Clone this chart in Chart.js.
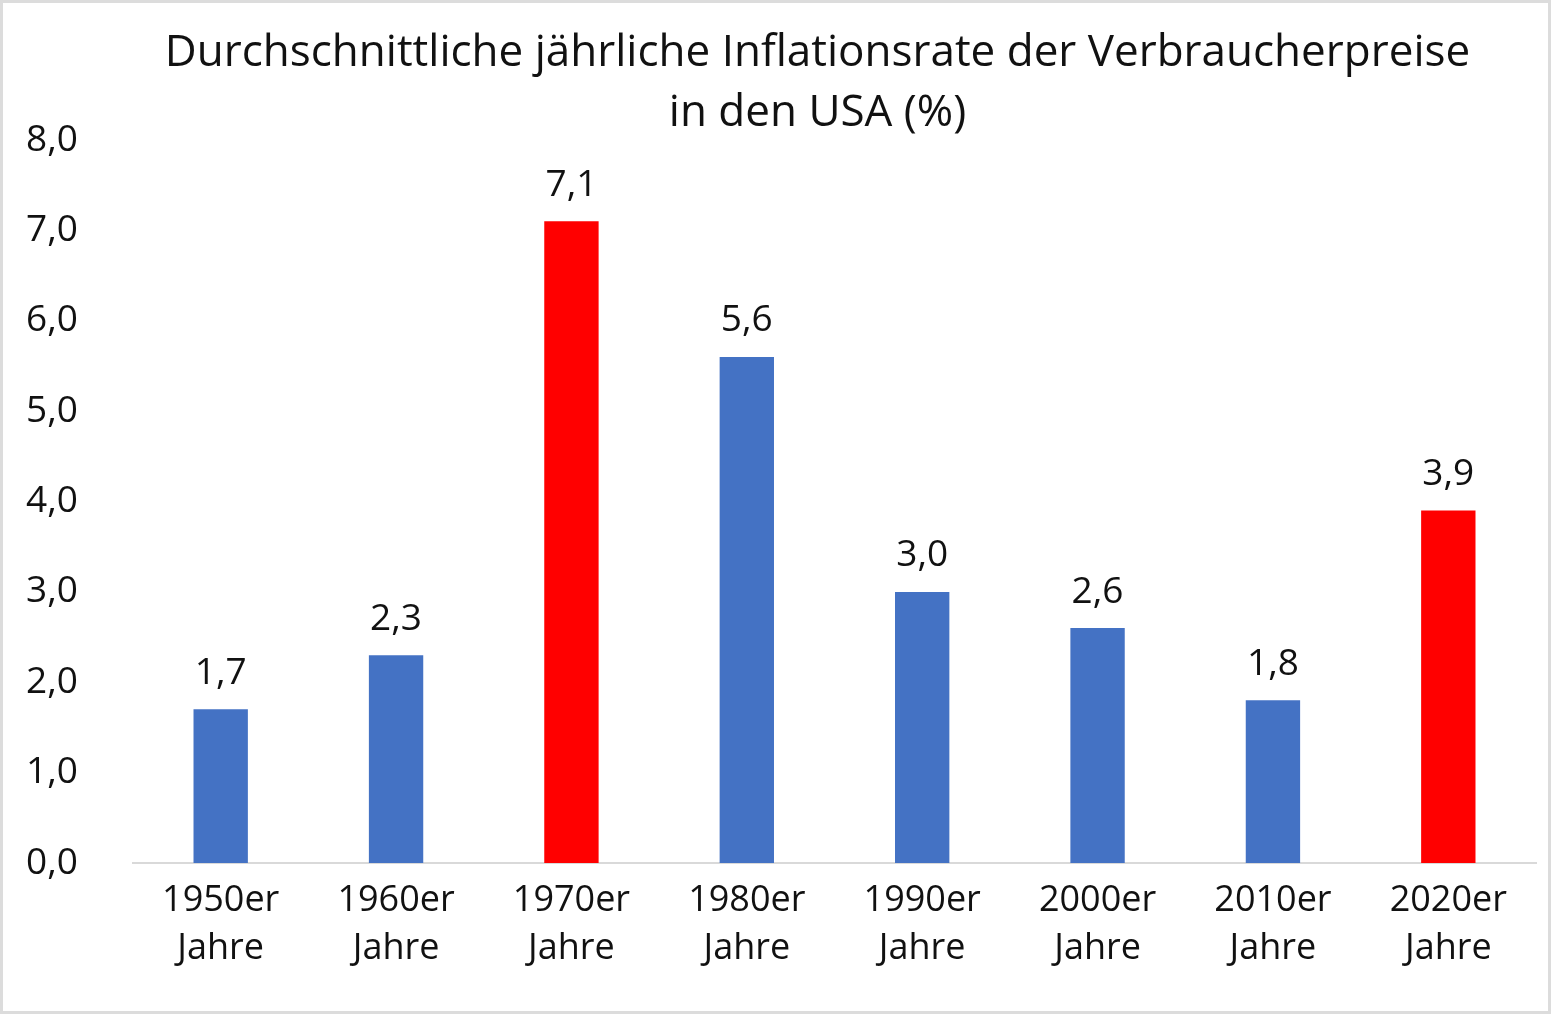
<!DOCTYPE html>
<html>
<head>
<meta charset="utf-8">
<script src="https://cdn.jsdelivr.net/npm/chart.js@4"></script>
<style>
  html, body { margin: 0; padding: 0; background: #fff; }
  #wrap { width: 1551px; height: 1014px; box-sizing: border-box; border: 3px solid #dcdcdc; }
</style>
</head>
<body>
<div id="wrap"><canvas id="bars"></canvas></div>
<script>
const decades = ['1950er', '1960er', '1970er', '1980er', '1990er', '2000er', '2010er', '2020er']
const inflation = [1.7, 2.3, 7.1, 5.6, 3.0, 2.6, 1.8, 3.9]
const highlighted = ['1970er', '2020er']
const yTicks = [0, 1, 2, 3, 4, 5, 6, 7, 8]
const titleLines = ['Durchschnittliche jährliche Inflationsrate der Verbraucherpreise', 'in den USA (%)']

const fontFamily = '"Open Sans", "Noto Sans", sans-serif'
const fmt = (v) => v.toFixed(1).replace('.', ',')

// draws the value above every bar
const valueLabels = {
  id: 'valueLabels',
  afterDatasetsDraw(chart) {
    const ctx = chart.ctx
    const meta = chart.getDatasetMeta(0)
    ctx.save()
    ctx.font = '37px ' + fontFamily
    ctx.fillStyle = '#111'
    ctx.textAlign = 'center'
    ctx.textBaseline = 'middle'
    meta.data.forEach((bar, i) => {
      ctx.fillText(fmt(inflation[i]), bar.x, bar.y - 36)
    })
    ctx.restore()
  },
}

// title centred over the plot area rather than the whole canvas
const plotTitle = {
  id: 'plotTitle',
  afterDraw(chart) {
    const ctx = chart.ctx
    const area = chart.chartArea
    const cx = (area.left + area.right) / 2 - 17
    ctx.save()
    ctx.font = '44px ' + fontFamily
    ctx.fillStyle = '#111'
    ctx.textAlign = 'center'
    ctx.textBaseline = 'middle'
    titleLines.forEach((line, i) => {
      ctx.fillText(line, cx, 50 + i * 60)
    })
    ctx.restore()
  },
}

const barConfig = {
  type: 'bar',
  data: {
    labels: decades.map((d) => [d, 'Jahre']),
    datasets: [
      {
        label: 'Inflation',
        data: inflation,
        backgroundColor: decades.map((d) => (highlighted.includes(d) ? '#ff0000' : '#4472c4')),
        borderWidth: 0,
        categoryPercentage: 1,
        barPercentage: 0.31,
      },
    ],
  },
  options: {
    responsive: false,
    animation: false,
    devicePixelRatio: 1,
    layout: { padding: { left: 0, right: 12, top: 137, bottom: 24 } },
    plugins: {
      legend: { display: false },
      tooltip: { enabled: false },
      title: { display: false },
    },
    scales: {
      x: {
        grid: { display: false, drawTicks: false },
        border: { display: true, color: '#d9d9d9', width: 2 },
        ticks: {
          color: '#111',
          padding: 14,
          font: { family: fontFamily, size: 36, lineHeight: '48px' },
        },
      },
      y: {
        min: 0,
        max: 8,
        afterBuildTicks: (scale) => {
          scale.ticks = yTicks.map((v) => ({ value: v }))
        },
        afterFit: (scale) => {
          scale.width = 130
        },
        grid: { display: false, drawTicks: false },
        border: { display: false },
        ticks: {
          color: '#111',
          padding: 55,
          font: { family: fontFamily, size: 37 },
          callback: (v) => fmt(v),
        },
      },
    },
  },
  plugins: [valueLabels, plotTitle],
}

const barsCtx = document.getElementById('bars')
barsCtx.width = 1545
barsCtx.height = 1008
window.myBar = new Chart(barsCtx, barConfig)
</script>
</body>
</html>
